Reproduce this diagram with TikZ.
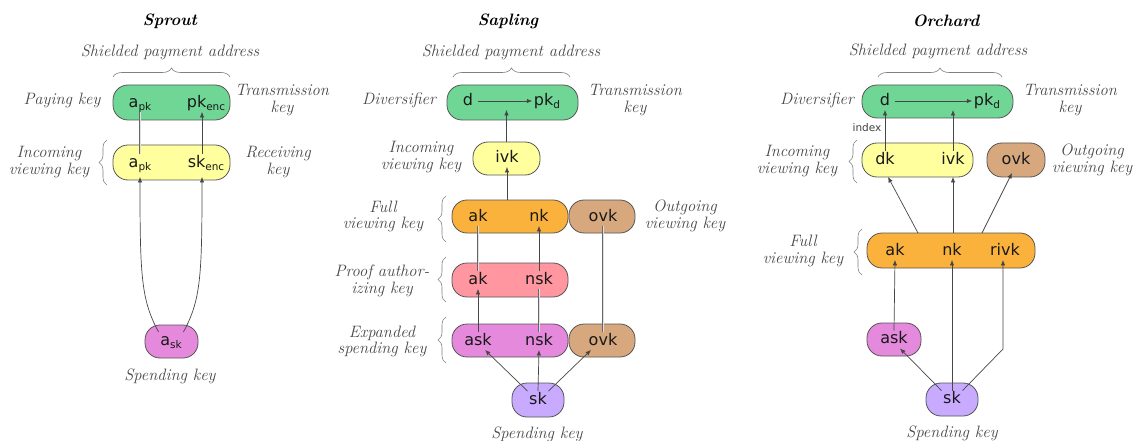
\documentclass[tikz,border=0pt]{standalone}
\usepackage{fontspec}
\newfontfamily\keyfont{DejaVu Sans}
\usetikzlibrary{arrows.meta,decorations.pathreplacing,calc}

\definecolor{kgreen}{RGB}{112,214,150}
\definecolor{kyellow}{RGB}{255,255,158}
\definecolor{korange}{RGB}{250,178,60}
\definecolor{ktan}{RGB}{215,168,125}
\definecolor{kpink}{RGB}{255,150,160}
\definecolor{kmagenta}{RGB}{228,137,220}
\definecolor{klavender}{RGB}{200,170,255}
\definecolor{boxline}{RGB}{85,85,85}
\definecolor{linec}{RGB}{70,70,70}

% subscript inside a key name
\newcommand\kbsub[1]{\raisebox{-0.35ex}{\fontsize{10.5}{10.5}\selectfont #1}}

\begin{document}
\begin{tikzpicture}[x=1pt,y=-1pt,
  keybox/.style={draw=boxline, line width=0.8pt, rounded corners=15pt,
    inner sep=0pt, outer sep=0pt},
  key/.style={font=\keyfont\fontsize{16}{16}\selectfont, text=black!90,
    inner sep=1.5pt, text height=11.5pt, text depth=3pt},
  lbl/.style={font=\itshape\fontsize{16.5}{16.5}\selectfont, text=black!72, align=center},
  ttl/.style={font=\bfseries\itshape\fontsize{16.5}{17}\selectfont},
  arr/.style={draw=linec, line width=0.7pt, -{Latex[length=5.5pt,width=4.5pt]}},
  dbl/.style={draw=black!60, line width=0.8pt, double=black!12, double distance=0.9pt},
  brc/.style={draw=black!50, line width=0.6pt, decorate,
    decoration={brace, amplitude=#1}},
  brc/.default=8pt,
  tiny/.style={font=\keyfont\fontsize{10.5}{10.5}\selectfont, text=black!75, inner sep=1pt},
]
\useasboundingbox (0,0) rectangle (1133,441);

% ================= Sprout =================
\node[ttl] (sp_title) at (170,21) {Sprout};
\node[lbl] (sp_addr) at (170,52) {Shielded payment address};
\draw[brc=9pt] (113,77) -- (230,77);

\node[keybox, fill=kgreen, minimum width=117pt, minimum height=35pt] (sp_paybox) at (171.5,102.5) {};
\node[keybox, fill=kyellow, minimum width=117pt, minimum height=35pt] (sp_ivkbox) at (171.5,162.5) {};
\node[keybox, fill=kmagenta, minimum width=53pt, minimum height=33pt] (sp_skbox) at (171.5,341.5) {};

\node[key] (sp_apk1) at (140,103) {a\kbsub{pk}};
\node[key] (sp_pkenc) at (206,103) {pk\kbsub{enc}};
\node[key] (sp_apk2) at (140,163) {a\kbsub{pk}};
\node[key] (sp_skenc) at (206,163) {sk\kbsub{enc}};
\node[key] (sp_ask) at (171,341) {a\kbsub{sk}};

\node[lbl] (sp_l1) at (62,100) {Paying key};
\node[lbl] (sp_l2) at (282,100) {Transmission\\key};
\node[lbl] (sp_l3) at (49,162) {Incoming\\viewing key};
\draw[brc] (107,185) -- (107,140);
\node[lbl] (sp_l4) at (278,162) {Receiving\\key};
\node[lbl] (sp_l5) at (170,376) {Spending key};

\draw[dbl] (sp_apk1.south) -- (sp_apk2.north);
\draw[arr] ([xshift=-4pt]sp_skenc.north) -- ([xshift=-4pt]sp_pkenc.south);
\draw[arr] (sp_ask.north west) .. controls (141,300) and (140,275) .. ([yshift=-5pt]sp_apk2.south);
\draw[arr] (sp_ask.north east) .. controls (201,300) and (202,275) .. ([xshift=-4pt,yshift=-5pt]sp_skenc.south);

% ================= Sapling =================
\node[ttl] (sa_title) at (508,21) {Sapling};
\node[lbl] (sa_addr) at (511,52) {Shielded payment address};
\draw[brc=9pt] (453,77) -- (570,77);

\node[keybox, fill=kgreen, minimum width=131pt, minimum height=35pt] (sa_addrbox) at (512.5,102.5) {};
\node[keybox, fill=kyellow, minimum width=67pt, minimum height=33pt] (sa_ivkbox) at (506.5,158.5) {};
\node[keybox, fill=korange, minimum width=116pt, minimum height=33pt] (sa_fvkbox) at (510,216.5) {};
\node[keybox, fill=ktan, minimum width=66pt, minimum height=33pt] (sa_ovkbox1) at (602,216.5) {};
\node[keybox, fill=kpink, minimum width=116pt, minimum height=34pt] (sa_pakbox) at (510,280) {};
\node[keybox, fill=kmagenta, minimum width=116pt, minimum height=33pt] (sa_eskbox) at (510,340.5) {};
\node[keybox, fill=ktan, minimum width=66pt, minimum height=33pt] (sa_ovkbox2) at (602,340.5) {};
\node[keybox, fill=klavender, minimum width=52pt, minimum height=34pt] (sa_skbox) at (538,400) {};

\node[key] (sa_d) at (468,101) {d};
\node[key] (sa_pkd) at (547,101) {pk\kbsub{d}};
\node[key] (sa_ivk) at (507,158) {ivk};
\node[key] (sa_ak1) at (478,217) {ak};
\node[key] (sa_nk) at (539,217) {nk};
\node[key] (sa_ovk1) at (603,217) {ovk};
\node[key] (sa_ak2) at (478,280) {ak};
\node[key] (sa_nsk1) at (539,280) {nsk};
\node[key] (sa_ask) at (478,341) {ask};
\node[key] (sa_nsk2) at (539,341) {nsk};
\node[key] (sa_ovk2) at (603,341) {ovk};
\node[key] (sa_sk) at (538,400) {sk};

\node[lbl] (sa_l1) at (399,100) {Diversifier};
\node[lbl] (sa_l2) at (635,100) {Transmission\\key};
\node[lbl] (sa_l3) at (421,157) {Incoming\\viewing key};
\node[lbl] (sa_l4) at (383,216.5) {Full\\viewing key};
\draw[brc] (446,242) -- (446,196);
\node[lbl] (sa_l5) at (685,216) {Outgoing\\viewing key};
\node[lbl] (sa_l6) at (382,281) {Proof author-\\izing key};
\draw[brc] (446,302) -- (446,257);
\node[lbl] (sa_l7) at (382,341.5) {Expanded\\spending key};
\draw[brc] (446,363) -- (446,317);
\node[lbl] (sa_l8) at (537,434) {Spending key};

\draw[arr, shorten <=3pt] (sa_d.east) -- (sa_pkd.west);
\draw[arr] (sa_ivkbox.north) -- (sa_ivkbox.north |- sa_d.south);
\draw[arr] (sa_ivk.south |- sa_fvkbox.north) -- (sa_ivk.south);
\draw[dbl] (sa_ak1.south) -- (sa_ak2.north);
\draw[arr] (sa_nsk1.north) -- (sa_nk.south);
\draw[arr] (sa_ask.north) -- (sa_ak2.south);
\draw[dbl] (sa_nsk2.north) -- (sa_nsk1.south);
\draw[dbl] (sa_ovk2.north) -- (sa_ovk1.south);
\draw[arr] (sa_sk.north west) -- ([xshift=7pt]sa_ask.south);
\draw[arr] (sa_sk.north) -- (sa_nsk2.south);
\draw[arr] (sa_sk.north east) -- ([xshift=-12pt]sa_ovk2.south);

% ================= Orchard =================
\node[ttl] (or_title) at (946,21) {Orchard};
\node[lbl] (or_addr) at (938,51) {Shielded payment address};
\draw[brc=9pt] (878,77) -- (1002,77);

\node[keybox, fill=kgreen, minimum width=151pt, minimum height=33pt] (or_addrbox) at (937.5,101.5) {};
\node[keybox, fill=kyellow, minimum width=111pt, minimum height=34pt] (or_ivkbox) at (917.5,160) {};
\node[keybox, fill=ktan, minimum width=58pt, minimum height=34pt] (or_ovkbox) at (1016,160) {};
\node[keybox, fill=korange, minimum width=168pt, minimum height=35pt] (or_fvkbox) at (951,250.5) {};
\node[keybox, fill=kmagenta, minimum width=54pt, minimum height=33pt] (or_askbox) at (894,339.5) {};
\node[keybox, fill=klavender, minimum width=52pt, minimum height=33pt] (or_skbox) at (952,399.5) {};

\node[key] (or_d) at (885,101) {d};
\node[key] (or_pkd) at (987,101) {pk\kbsub{d}};
\node[key] (or_dk) at (885,160) {dk};
\node[key] (or_ivk) at (953,160) {ivk};
\node[key] (or_ovk) at (1016,160) {ovk};
\node[key] (or_ak) at (895,251) {ak};
\node[key] (or_nk) at (952,251) {nk};
\node[key] (or_rivk) at (1005,251) {rivk};
\node[key] (or_ask) at (894,339.5) {ask};
\node[key] (or_sk) at (952,399.5) {sk};

\node[lbl] (or_l1) at (817,100) {Diversifier};
\node[lbl] (or_l2) at (1070,100) {Transmission\\key};
\node[tiny] (or_index) at (867,128) {index};
\node[lbl] (or_l3) at (797,161) {Incoming\\viewing key};
\draw[brc] (857,183) -- (857,140);
\node[lbl] (or_l4) at (1092,160) {Outgoing\\viewing key};
\node[lbl] (or_l5) at (803,251) {Full\\viewing key};
\draw[brc] (862,275) -- (862,229);
\node[lbl] (or_l6) at (952,433) {Spending key};

\coordinate (or_knee) at (1003,349);

\draw[arr, shorten <=3pt] (or_d.east) -- (or_pkd.west);
\draw[arr] (or_dk.north) -- (or_d.south);
\draw[arr] (or_ivk.north) -- (or_ivk.north |- or_d.south);
\draw[arr] ([xshift=-33pt]or_fvkbox.north) -- ($(or_dk.south)+(3,8)$);
\draw[arr] (or_ivk.south |- or_fvkbox.north) -- ($(or_ivk.south)+(0,8)$);
\draw[arr] ([xshift=31pt]or_fvkbox.north) -- ($(or_ovk.south)+(-4,4)$);
\draw[arr] (or_ask.north) -- (or_ak.south);
\draw[arr] (or_sk.north) -- (or_nk.south);
\draw[arr] (or_sk.north east) -- (or_knee) -- (or_knee |- or_rivk.south);
\draw[arr] (or_sk.north west) -- ($(or_ask.south)+(6,0)$);
\end{tikzpicture}
\end{document}
